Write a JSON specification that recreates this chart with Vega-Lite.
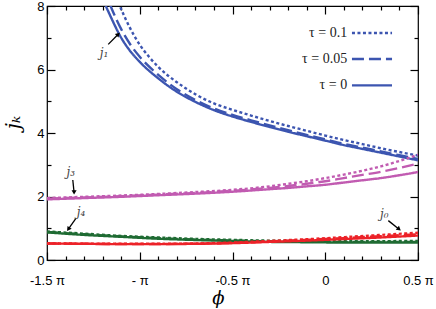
{
  "$schema": "https://vega.github.io/schema/vega-lite/v6.json",
  "width": 371,
  "height": 254,
  "autosize": "none",
  "padding": {"left": 47, "top": 6, "right": 18, "bottom": 49},
  "background": "white",
  "config": {
    "view": {"stroke": "black", "strokeWidth": 1.2},
    "axis": {"domain": false, "grid": false, "labelFont": "Liberation Sans", "labelFontSize": 13, "labelColor": "black", "tickColor": "black", "tickWidth": 1.2, "labelOverlap": false, "labelFlush": false}
  },
  "datasets": {
    "curves": [
      {"k":"j1","t":"0","x":-1.3,"y":10.1},{"k":"j1","t":"0","x":-1.25,"y":9.1},{"k":"j1","t":"0","x":-1.2,"y":8.25},{"k":"j1","t":"0","x":-1.15,"y":7.58},{"k":"j1","t":"0","x":-1.1,"y":7.0},{"k":"j1","t":"0","x":-1.05,"y":6.57},{"k":"j1","t":"0","x":-1.0,"y":6.24},{"k":"j1","t":"0","x":-0.9,"y":5.72},{"k":"j1","t":"0","x":-0.8,"y":5.3},{"k":"j1","t":"0","x":-0.7,"y":4.98},{"k":"j1","t":"0","x":-0.6,"y":4.72},{"k":"j1","t":"0","x":-0.5,"y":4.52},{"k":"j1","t":"0","x":-0.4,"y":4.35},{"k":"j1","t":"0","x":-0.3,"y":4.19},{"k":"j1","t":"0","x":-0.2,"y":4.04},{"k":"j1","t":"0","x":-0.1,"y":3.9},{"k":"j1","t":"0","x":0,"y":3.76},{"k":"j1","t":"0","x":0.1,"y":3.62},{"k":"j1","t":"0","x":0.2,"y":3.5},{"k":"j1","t":"0","x":0.3,"y":3.38},{"k":"j1","t":"0","x":0.4,"y":3.26},{"k":"j1","t":"0","x":0.5,"y":3.14},
      {"k":"j1","t":"0.05","x":-1.3,"y":10.6},{"k":"j1","t":"0.05","x":-1.25,"y":9.6},{"k":"j1","t":"0.05","x":-1.2,"y":8.65},{"k":"j1","t":"0.05","x":-1.15,"y":7.9},{"k":"j1","t":"0.05","x":-1.1,"y":7.27},{"k":"j1","t":"0.05","x":-1.05,"y":6.78},{"k":"j1","t":"0.05","x":-1.0,"y":6.4},{"k":"j1","t":"0.05","x":-0.9,"y":5.83},{"k":"j1","t":"0.05","x":-0.8,"y":5.38},{"k":"j1","t":"0.05","x":-0.7,"y":5.04},{"k":"j1","t":"0.05","x":-0.6,"y":4.77},{"k":"j1","t":"0.05","x":-0.5,"y":4.57},{"k":"j1","t":"0.05","x":-0.4,"y":4.4},{"k":"j1","t":"0.05","x":-0.3,"y":4.24},{"k":"j1","t":"0.05","x":-0.2,"y":4.09},{"k":"j1","t":"0.05","x":-0.1,"y":3.94},{"k":"j1","t":"0.05","x":0,"y":3.8},{"k":"j1","t":"0.05","x":0.1,"y":3.66},{"k":"j1","t":"0.05","x":0.2,"y":3.54},{"k":"j1","t":"0.05","x":0.3,"y":3.42},{"k":"j1","t":"0.05","x":0.4,"y":3.3},{"k":"j1","t":"0.05","x":0.5,"y":3.18},
      {"k":"j1","t":"0.1","x":-1.25,"y":10.6},{"k":"j1","t":"0.1","x":-1.2,"y":9.6},{"k":"j1","t":"0.1","x":-1.15,"y":8.65},{"k":"j1","t":"0.1","x":-1.1,"y":7.9},{"k":"j1","t":"0.1","x":-1.05,"y":7.28},{"k":"j1","t":"0.1","x":-1.0,"y":6.78},{"k":"j1","t":"0.1","x":-0.95,"y":6.4},{"k":"j1","t":"0.1","x":-0.9,"y":6.08},{"k":"j1","t":"0.1","x":-0.8,"y":5.6},{"k":"j1","t":"0.1","x":-0.7,"y":5.22},{"k":"j1","t":"0.1","x":-0.6,"y":4.93},{"k":"j1","t":"0.1","x":-0.5,"y":4.73},{"k":"j1","t":"0.1","x":-0.4,"y":4.55},{"k":"j1","t":"0.1","x":-0.3,"y":4.38},{"k":"j1","t":"0.1","x":-0.2,"y":4.22},{"k":"j1","t":"0.1","x":-0.1,"y":4.07},{"k":"j1","t":"0.1","x":0,"y":3.92},{"k":"j1","t":"0.1","x":0.1,"y":3.78},{"k":"j1","t":"0.1","x":0.2,"y":3.65},{"k":"j1","t":"0.1","x":0.3,"y":3.52},{"k":"j1","t":"0.1","x":0.4,"y":3.4},{"k":"j1","t":"0.1","x":0.5,"y":3.29},
      {"k":"j3","t":"0","x":-1.5,"y":1.91},{"k":"j3","t":"0","x":-1.3,"y":1.95},{"k":"j3","t":"0","x":-1.1,"y":1.99},{"k":"j3","t":"0","x":-0.9,"y":2.04},{"k":"j3","t":"0","x":-0.7,"y":2.09},{"k":"j3","t":"0","x":-0.5,"y":2.15},{"k":"j3","t":"0","x":-0.3,"y":2.23},{"k":"j3","t":"0","x":-0.2,"y":2.27},{"k":"j3","t":"0","x":-0.1,"y":2.32},{"k":"j3","t":"0","x":0,"y":2.37},{"k":"j3","t":"0","x":0.1,"y":2.44},{"k":"j3","t":"0","x":0.2,"y":2.51},{"k":"j3","t":"0","x":0.3,"y":2.58},{"k":"j3","t":"0","x":0.4,"y":2.67},{"k":"j3","t":"0","x":0.5,"y":2.77},
      {"k":"j3","t":"0.05","x":-1.5,"y":1.93},{"k":"j3","t":"0.05","x":-1.3,"y":1.97},{"k":"j3","t":"0.05","x":-1.1,"y":2.01},{"k":"j3","t":"0.05","x":-0.9,"y":2.06},{"k":"j3","t":"0.05","x":-0.7,"y":2.11},{"k":"j3","t":"0.05","x":-0.5,"y":2.18},{"k":"j3","t":"0.05","x":-0.3,"y":2.27},{"k":"j3","t":"0.05","x":-0.2,"y":2.33},{"k":"j3","t":"0.05","x":-0.1,"y":2.4},{"k":"j3","t":"0.05","x":0,"y":2.48},{"k":"j3","t":"0.05","x":0.1,"y":2.58},{"k":"j3","t":"0.05","x":0.2,"y":2.68},{"k":"j3","t":"0.05","x":0.3,"y":2.78},{"k":"j3","t":"0.05","x":0.4,"y":2.9},{"k":"j3","t":"0.05","x":0.5,"y":3.04},
      {"k":"j3","t":"0.1","x":-1.5,"y":1.95},{"k":"j3","t":"0.1","x":-1.3,"y":1.99},{"k":"j3","t":"0.1","x":-1.1,"y":2.03},{"k":"j3","t":"0.1","x":-0.9,"y":2.08},{"k":"j3","t":"0.1","x":-0.7,"y":2.14},{"k":"j3","t":"0.1","x":-0.5,"y":2.21},{"k":"j3","t":"0.1","x":-0.3,"y":2.32},{"k":"j3","t":"0.1","x":-0.2,"y":2.4},{"k":"j3","t":"0.1","x":-0.1,"y":2.48},{"k":"j3","t":"0.1","x":0,"y":2.58},{"k":"j3","t":"0.1","x":0.1,"y":2.69},{"k":"j3","t":"0.1","x":0.2,"y":2.81},{"k":"j3","t":"0.1","x":0.3,"y":2.95},{"k":"j3","t":"0.1","x":0.4,"y":3.12},{"k":"j3","t":"0.1","x":0.5,"y":3.32},
      {"k":"j4","t":"0","x":-1.5,"y":0.87},{"k":"j4","t":"0","x":-1.3,"y":0.79},{"k":"j4","t":"0","x":-1.1,"y":0.73},{"k":"j4","t":"0","x":-0.9,"y":0.67},{"k":"j4","t":"0","x":-0.7,"y":0.63},{"k":"j4","t":"0","x":-0.5,"y":0.6},{"k":"j4","t":"0","x":-0.3,"y":0.57},{"k":"j4","t":"0","x":-0.1,"y":0.56},{"k":"j4","t":"0","x":0.1,"y":0.55},{"k":"j4","t":"0","x":0.3,"y":0.55},{"k":"j4","t":"0","x":0.5,"y":0.55},
      {"k":"j4","t":"0.05","x":-1.5,"y":0.88},{"k":"j4","t":"0.05","x":-1.3,"y":0.81},{"k":"j4","t":"0.05","x":-1.1,"y":0.745},{"k":"j4","t":"0.05","x":-0.9,"y":0.69},{"k":"j4","t":"0.05","x":-0.7,"y":0.645},{"k":"j4","t":"0.05","x":-0.5,"y":0.615},{"k":"j4","t":"0.05","x":-0.3,"y":0.59},{"k":"j4","t":"0.05","x":-0.1,"y":0.575},{"k":"j4","t":"0.05","x":0.1,"y":0.57},{"k":"j4","t":"0.05","x":0.3,"y":0.57},{"k":"j4","t":"0.05","x":0.5,"y":0.57},
      {"k":"j4","t":"0.1","x":-1.5,"y":0.9},{"k":"j4","t":"0.1","x":-1.3,"y":0.83},{"k":"j4","t":"0.1","x":-1.1,"y":0.76},{"k":"j4","t":"0.1","x":-0.9,"y":0.71},{"k":"j4","t":"0.1","x":-0.7,"y":0.665},{"k":"j4","t":"0.1","x":-0.5,"y":0.635},{"k":"j4","t":"0.1","x":-0.3,"y":0.61},{"k":"j4","t":"0.1","x":-0.1,"y":0.6},{"k":"j4","t":"0.1","x":0.1,"y":0.595},{"k":"j4","t":"0.1","x":0.3,"y":0.595},{"k":"j4","t":"0.1","x":0.5,"y":0.6},
      {"k":"j0","t":"0","x":-1.5,"y":0.52},{"k":"j0","t":"0","x":-1.3,"y":0.51},{"k":"j0","t":"0","x":-1.1,"y":0.5},{"k":"j0","t":"0","x":-0.9,"y":0.5},{"k":"j0","t":"0","x":-0.7,"y":0.51},{"k":"j0","t":"0","x":-0.5,"y":0.53},{"k":"j0","t":"0","x":-0.3,"y":0.57},{"k":"j0","t":"0","x":-0.1,"y":0.61},{"k":"j0","t":"0","x":0.1,"y":0.66},{"k":"j0","t":"0","x":0.3,"y":0.71},{"k":"j0","t":"0","x":0.5,"y":0.77},
      {"k":"j0","t":"0.05","x":-1.5,"y":0.52},{"k":"j0","t":"0.05","x":-1.3,"y":0.51},{"k":"j0","t":"0.05","x":-1.1,"y":0.505},{"k":"j0","t":"0.05","x":-0.9,"y":0.505},{"k":"j0","t":"0.05","x":-0.7,"y":0.515},{"k":"j0","t":"0.05","x":-0.5,"y":0.54},{"k":"j0","t":"0.05","x":-0.3,"y":0.585},{"k":"j0","t":"0.05","x":-0.1,"y":0.635},{"k":"j0","t":"0.05","x":0.1,"y":0.69},{"k":"j0","t":"0.05","x":0.3,"y":0.75},{"k":"j0","t":"0.05","x":0.5,"y":0.81},
      {"k":"j0","t":"0.1","x":-1.5,"y":0.525},{"k":"j0","t":"0.1","x":-1.3,"y":0.515},{"k":"j0","t":"0.1","x":-1.1,"y":0.51},{"k":"j0","t":"0.1","x":-0.9,"y":0.51},{"k":"j0","t":"0.1","x":-0.7,"y":0.52},{"k":"j0","t":"0.1","x":-0.5,"y":0.55},{"k":"j0","t":"0.1","x":-0.3,"y":0.6},{"k":"j0","t":"0.1","x":-0.1,"y":0.655},{"k":"j0","t":"0.1","x":0.1,"y":0.72},{"k":"j0","t":"0.1","x":0.3,"y":0.79},{"k":"j0","t":"0.1","x":0.5,"y":0.86}
    ],
    "legend": [
      {"t":"0.1","label":"τ = 0.1","x":0.144,"x2":0.36,"xt":0.118,"y":7.15},
      {"t":"0.05","label":"τ = 0.05","x":0.144,"x2":0.36,"xt":0.118,"y":6.33},
      {"t":"0","label":"τ = 0","x":0.144,"x2":0.36,"xt":0.118,"y":5.5}
    ],
    "arrows": [
      {"name":"j₁","lx":-1.193,"ly":6.53,"x":-1.17,"y":6.79,"hx":-1.116,"hy":7.11,"ang":45},
      {"name":"j₃","lx":-1.372,"ly":2.76,"x":-1.361,"y":2.52,"hx":-1.354,"hy":2.13,"ang":180},
      {"name":"j₄","lx":-1.317,"ly":1.52,"x":-1.344,"y":1.31,"hx":-1.385,"hy":0.97,"ang":215},
      {"name":"j₀","lx":0.318,"ly":1.45,"x":0.34,"y":1.24,"hx":0.398,"hy":0.97,"ang":129}
    ]
  },
  "resolve": {"axis": {"x": "independent", "y": "independent"}},
  "layer": [
    {
      "data": {"name": "curves"},
      "mark": {"type": "line", "interpolate": "monotone", "clip": true, "strokeWidth": 2.4, "strokeCap": "butt"},
      "encoding": {
        "x": {"field": "x", "type": "quantitative",
          "scale": {"domain": [-1.5, 0.5], "nice": false, "zero": false},
          "axis": {"orient": "bottom", "title": "ϕ", "titleFont": "DejaVu Serif", "titleFontStyle": "italic", "titleFontWeight": "normal", "titleFontSize": 18, "titleX": 171, "titleY": 38, "titleBaseline": "middle",
            "values": [-1.5,-1.4,-1.3,-1.2,-1.1,-1,-0.9,-0.8,-0.7,-0.6,-0.5,-0.4,-0.3,-0.2,-0.1,0,0.1,0.2,0.3,0.4,0.5],
            "labelExpr": "datum.value == -1.5 ? '-1.5 π' : datum.value == -1 ? '- π' : datum.value == -0.5 ? '-0.5 π' : datum.value == 0 ? '0' : datum.value == 0.5 ? '0.5 π' : ''",
            "tickSize": {"condition": {"test": "abs(datum.value*2 - round(datum.value*2)) < 0.001", "value": -8}, "value": -4},
            "labelPadding": 22}},
        "y": {"field": "y", "type": "quantitative",
          "scale": {"domain": [0, 8], "nice": false, "zero": false},
          "axis": {"orient": "left", "title": "jₖ", "titleFont": "DejaVu Serif", "titleFontStyle": "italic", "titleFontWeight": "normal", "titleFontSize": 20, "titleAngle": -90, "titleX": -34, "titleY": 116, "titleBaseline": "middle", "titleAlign": "center",
            "values": [0,1,2,3,4,5,6,7,8],
            "labelExpr": "datum.value % 2 == 0 ? datum.value : ''",
            "tickSize": {"condition": {"test": "datum.value % 2 == 0", "value": -8}, "value": -4},
            "labelPadding": 11}},
        "color": {"field": "k", "type": "nominal", "legend": null,
          "scale": {"domain": ["j1","j3","j4","j0"], "range": ["#3c55b0","#c15bb1","#1f6b33","#ec2228"]}},
        "strokeDash": {"field": "t", "type": "nominal", "legend": null,
          "scale": {"domain": ["0.1","0.05","0"], "range": [[3,2.5],[12,5],[1,0]]}}
      }
    },
    {
      "data": {"name": "legend"},
      "mark": {"type": "rule", "strokeWidth": 2.4, "color": "#3c55b0", "strokeCap": "butt"},
      "encoding": {
        "x": {"field": "x", "type": "quantitative",
          "axis": {"orient": "top", "title": null, "labels": false,
            "values": [-1.5,-1.4,-1.3,-1.2,-1.1,-1,-0.9,-0.8,-0.7,-0.6,-0.5,-0.4,-0.3,-0.2,-0.1,0,0.1,0.2,0.3,0.4,0.5],
            "tickSize": {"condition": {"test": "abs(datum.value*2 - round(datum.value*2)) < 0.001", "value": -8}, "value": -4}}},
        "x2": {"field": "x2"},
        "y": {"field": "y", "type": "quantitative",
          "axis": {"orient": "right", "title": null, "labels": false,
            "values": [0,1,2,3,4,5,6,7,8],
            "tickSize": {"condition": {"test": "datum.value % 2 == 0", "value": -8}, "value": -4}}},
        "strokeDash": {"field": "t", "type": "nominal", "legend": null}
      }
    },
    {
      "data": {"name": "legend"},
      "mark": {"type": "text", "align": "right", "baseline": "middle", "font": "Liberation Serif", "fontSize": 14, "color": "#222"},
      "encoding": {
        "x": {"field": "xt", "type": "quantitative", "axis": null},
        "y": {"field": "y", "type": "quantitative", "axis": null},
        "text": {"field": "label"}
      }
    },
    {
      "data": {"name": "arrows"},
      "mark": {"type": "rule", "strokeWidth": 1.3, "color": "black"},
      "encoding": {
        "x": {"field": "x", "type": "quantitative", "axis": null},
        "y": {"field": "y", "type": "quantitative", "axis": null},
        "x2": {"field": "hx"},
        "y2": {"field": "hy"}
      }
    },
    {
      "data": {"name": "arrows"},
      "mark": {"type": "point", "shape": "triangle-up", "filled": true, "color": "black", "size": 26, "opacity": 1},
      "encoding": {
        "x": {"field": "hx", "type": "quantitative", "axis": null},
        "y": {"field": "hy", "type": "quantitative", "axis": null},
        "angle": {"field": "ang", "type": "quantitative", "scale": null}
      }
    },
    {
      "data": {"name": "arrows"},
      "mark": {"type": "text", "align": "center", "baseline": "middle", "font": "DejaVu Serif", "fontStyle": "italic", "fontSize": 12, "color": "#444"},
      "encoding": {
        "x": {"field": "lx", "type": "quantitative", "axis": null},
        "y": {"field": "ly", "type": "quantitative", "axis": null},
        "text": {"field": "name"}
      }
    }
  ]
}
